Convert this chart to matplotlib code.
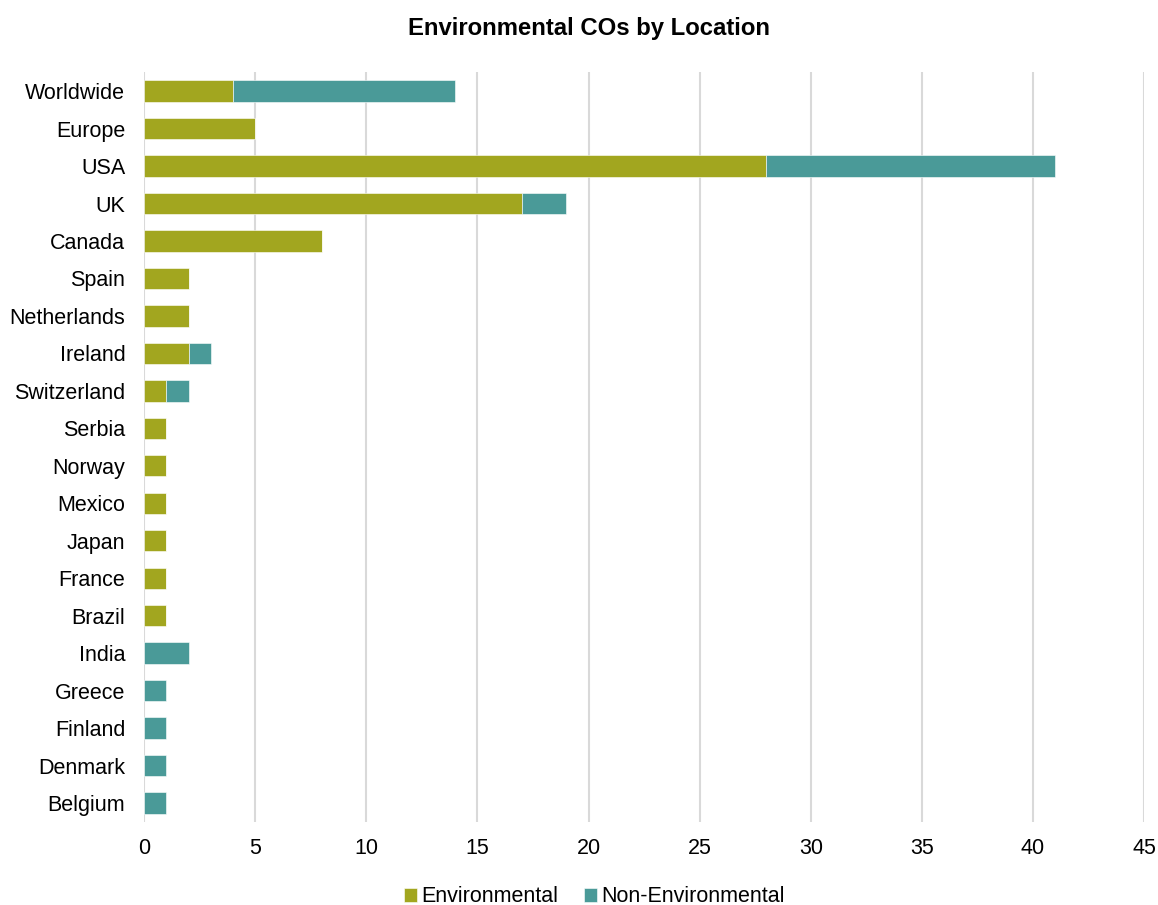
import matplotlib.pyplot as plt
import numpy as np

plt.rcParams['font.family'] = ['Liberation Sans', 'DejaVu Sans']

locations = ['Worldwide', 'Europe', 'USA', 'UK', 'Canada', 'Spain', 'Netherlands',
             'Ireland', 'Switzerland', 'Serbia', 'Norway', 'Mexico', 'Japan',
             'France', 'Brazil', 'India', 'Greece', 'Finland', 'Denmark', 'Belgium']
environmental = [4, 5, 28, 17, 8, 2, 2, 2, 1, 1, 1, 1, 1, 1, 1, 0, 0, 0, 0, 0]
non_environmental = [10, 0, 13, 2, 0, 0, 0, 1, 1, 0, 0, 0, 0, 0, 0, 2, 1, 1, 1, 1]

env_color = '#A2A61F'
non_color = '#4A9A98'

fig = plt.figure(figsize=(11.58, 9.05), dpi=100)
ax = fig.add_axes([0.1244, 0.092, 0.8636, 0.828])

y = np.arange(len(locations))
h = 0.57
ax.barh(y, environmental, height=h, color=env_color, label='Environmental',
        edgecolor='white', linewidth=0.4, zorder=3)
ax.barh(y, non_environmental, left=environmental, height=h, color=non_color,
        label='Non-Environmental', edgecolor='white', linewidth=0.4, zorder=3)

ax.set_xlim(0, 45)
ax.set_ylim(len(locations) - 0.5, -0.5)
ax.set_xticks(range(0, 46, 5))
ax.set_yticks(y)
ax.set_yticklabels(locations)
ax.tick_params(axis='both', length=0, labelsize=15.5, colors='black')
ax.tick_params(axis='x', pad=12)
ax.tick_params(axis='y', pad=13.5)
ax.grid(axis='x', color='#D9D9D9', linewidth=1.5, zorder=0)
for s in ax.spines.values():
    s.set_visible(False)

fig.suptitle('Environmental COs by Location', x=0.509, fontsize=17.2,
             fontweight='bold', y=0.981)

handles, labels = ax.get_legend_handles_labels()
fig.legend(handles, labels, loc='lower center', bbox_to_anchor=(0.513, -0.024), ncol=2,
           frameon=False, fontsize=15.5, handlelength=0.6, handleheight=0.6,
           handletextpad=0.2, columnspacing=1.2)

fig.savefig('out.png', dpi=100)
